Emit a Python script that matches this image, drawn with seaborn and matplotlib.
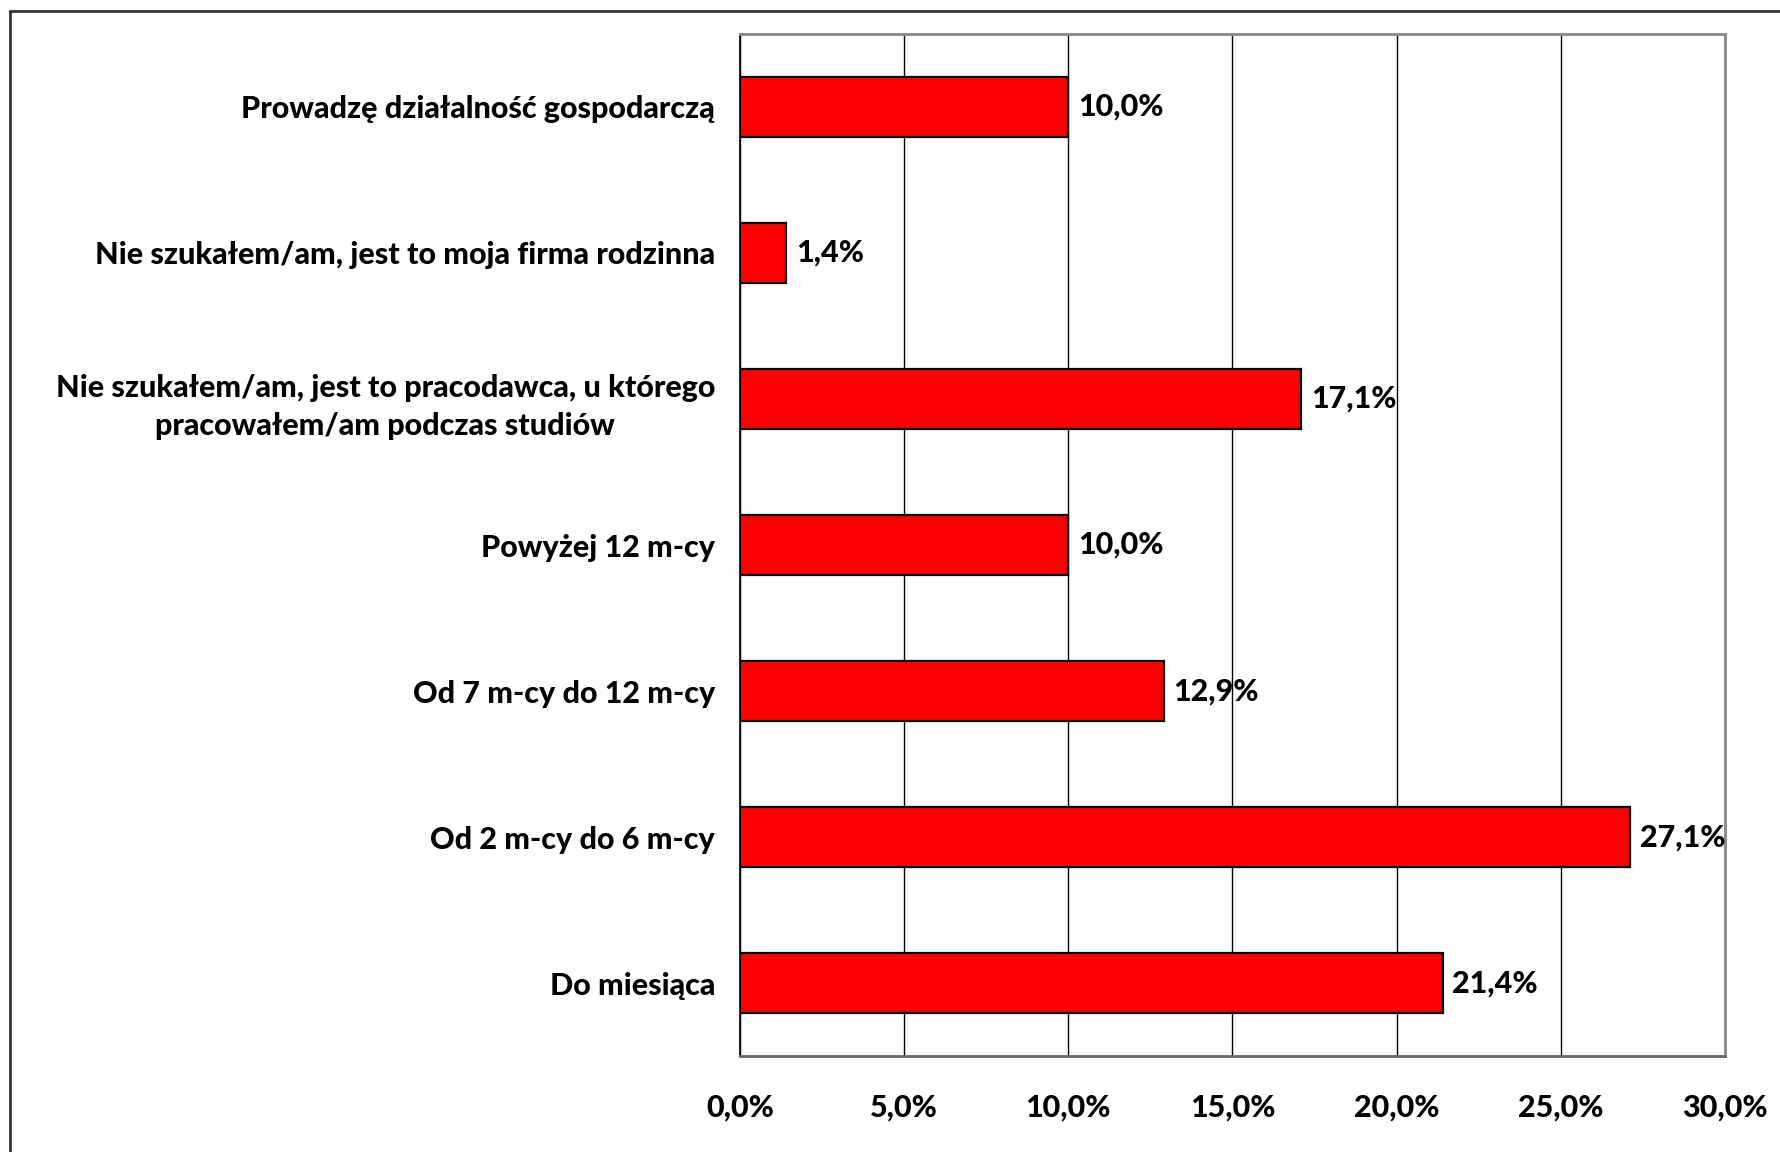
import matplotlib
matplotlib.use("Agg")
import matplotlib.pyplot as plt
import seaborn as sns
import pandas as pd
from matplotlib.patches import Rectangle

categories = [
    "Prowadzę działalność gospodarczą",
    "Nie szukałem/am, jest to moja firma rodzinna",
    "Nie szukałem/am, jest to pracodawca, u którego\npracowałem/am podczas studiów",
    "Powyżej 12 m-cy",
    "Od 7 m-cy do 12 m-cy",
    "Od 2 m-cy do 6 m-cy",
    "Do miesiąca",
]
values = [10.0, 1.4, 17.1, 10.0, 12.9, 27.1, 21.4]
xticks = [0, 5, 10, 15, 20, 25, 30]

sns.set_style("white")
plt.rcParams['font.family'] = ['Lato', 'DejaVu Sans']
plt.rcParams['text.color'] = 'black'
plt.rcParams['xtick.color'] = 'black'
plt.rcParams['ytick.color'] = 'black'
plt.rcParams['xtick.labelcolor'] = 'black'
plt.rcParams['ytick.labelcolor'] = 'black'

FS = 22
W = 'black'

df = pd.DataFrame({"cat": categories, "val": values})

fig = plt.figure(figsize=(17.8, 11.52), dpi=100)
ax = fig.add_axes([0.4157, 0.0833, 0.9691 - 0.4157, 0.9705 - 0.0833])

sns.barplot(data=df, y="cat", x="val", orient="h", color="#ff0000",
            edgecolor="black", linewidth=1.6, width=0.41, saturation=1, ax=ax)

ax.set_xlim(0, 30)
ax.set_ylim(len(categories) - 0.5, -0.5)
ax.set_xticks(xticks)
ax.set_xticklabels([f"{t:.1f}%".replace(".", ",") for t in xticks], fontsize=FS, fontweight=W, color='black')
ax.set_yticks(range(len(categories)))
ax.set_yticklabels(categories, fontsize=FS, fontweight=W, color='black')
for lab in ax.get_yticklabels():
    lab.set_multialignment('center')
    lab.set_linespacing(1.45)
ax.set_xlabel("")
ax.set_ylabel("")

# y ticks at category boundaries
ax.set_yticks([i - 0.5 for i in range(len(categories) + 1)], minor=True)
ax.tick_params(axis='y', which='major', length=0, pad=18)
ax.tick_params(axis='y', which='minor', length=7, width=1.2, color='black', direction='out')
ax.tick_params(axis='x', which='major', length=9, width=1.2, color='black', direction='out', pad=18)

ax.grid(axis='x', color='black', linewidth=1.0)
ax.set_axisbelow(True)

for s in ['top', 'right']:
    ax.spines[s].set_color('#888888')
    ax.spines[s].set_linewidth(2.0)
ax.spines['left'].set_color('black')
ax.spines['left'].set_linewidth(1.2)
ax.spines['bottom'].set_color('#666666')
ax.spines['bottom'].set_linewidth(2.0)

for i, v in enumerate(values):
    ax.text(v + 0.3, i, f"{v:.1f}%".replace(".", ","), va='center', ha='left',
            fontsize=FS, fontweight=W, color='black')

fig.patches.append(Rectangle((10 / 1780, -0.1), 1.2, 1 - 11 / 1152 + 0.1,
                             transform=fig.transFigure, fill=False,
                             edgecolor='#333333', linewidth=2.0))

fig.savefig("out.png", dpi=100)
